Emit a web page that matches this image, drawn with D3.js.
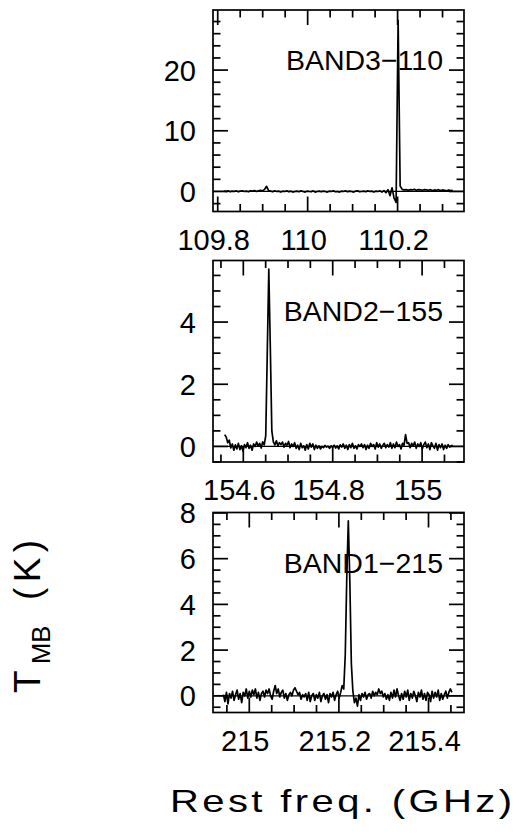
<!DOCTYPE html>
<html><head><meta charset="utf-8">
<script src="https://cdn.jsdelivr.net/npm/d3@7"></script>
<style>
body{margin:0;background:#fff}
svg{display:block}
text{font-family:"Liberation Sans",Arial,sans-serif;fill:#000}
</style>
</head><body>
<svg id="c" width="519" height="838"></svg>
<script>
// ---------- data ----------
const panelNames = ["BAND3\u2212110", "BAND2\u2212155", "BAND1\u2212215"];
const freqDomains = [[109.7895, 110.3477], [154.5322, 155.0937], [214.919, 215.4792]];
const tempDomains = [[-3.3, 29.9], [-0.5, 5.98], [-0.73, 8.02]];
const xTickLabels = [[109.8, 110, 110.2], [154.6, 154.8, 155], [215, 215.2, 215.4]];
const yTickLabels = [[0, 10, 20], [0, 2, 4], [0, 2, 4, 6, 8]];
const yMinorStep = [2, 0.5, 0.5];
const yMajorStep = [10, 2, 2];
const xMinorStep = 0.05;
const xMajorStep = 0.2;
const specStart = [109.8142, 154.5584, 214.9422];
const specStep = [0.0045, 0.0034, 0.0034];

const spec1 = [
0.05,0.0,0.1,-0.05,0.05,0.0,0.1,-0.05,0.05,0.1,
0.0,0.05,-0.05,0.1,0.05,0.15,0.0,0.1,0.2,0.1,
0.35,0.85,0.15,
0.05,-0.05,0.1,0.0,0.05,-0.1,0.05,
0.0,0.1,-0.05,0.05,-0.1,0.0,0.05,-0.05,0.1,0.0,
-0.1,0.05,0.0,-0.05,0.1,-0.1,0.0,0.05,-0.05,0.05,
0.0,-0.1,0.05,0.0,0.1,-0.05,0.0,-0.1,0.05,0.0,
0.1,-0.05,0.05,0.0,-0.1,0.05,0.1,-0.05,0.0,0.05,
-0.05,0.1,0.0,0.05,-0.1,0.05,0.0,0.1,-0.1,0.15,-0.2,
0.3,-0.7,0.6,-1.1,-1.8,28.2,0.9,
0.35,0.25,0.3,0.2,0.3,0.25,0.35,0.2,0.3,0.25,0.2,0.3,
0.25,0.2,0.3,0.15,0.25,0.2,0.3,0.15,0.25,0.2,0.1,0.25,0.15,0.2];

const spec2 = [
0.38,0.30,0.12,0.20,-0.05,0.08,-0.12,0.05,-0.08,0.10,
-0.10,0.02,-0.15,0.06,-0.04,0.12,-0.06,0.04,-0.12,0.08,
0.00,0.14,0.02,0.10,-0.05,0.15,0.05,0.35,3.0,5.7,
3.2,0.5,0.15,0.05,0.18,0.02,0.12,0.06,0.14,-0.02,
0.10,0.04,0.16,-0.04,0.08,0.00,0.12,-0.06,0.04,-0.10,
0.10,-0.04,0.02,-0.12,0.06,-0.08,0.10,-0.02,0.08,-0.10,
0.04,-0.06,0.02,-0.08,0.00,-0.04,0.03,-0.02,0.01,-0.06,
0.02,-0.03,0.04,-0.05,0.02,-0.08,0.05,-0.02,0.08,-0.06,
0.04,-0.10,0.06,-0.04,0.10,-0.06,0.02,-0.08,0.06,0.00,
0.08,-0.04,0.06,-0.10,0.04,-0.06,0.10,0.00,0.06,-0.08,
0.12,-0.02,0.08,-0.06,0.04,0.10,-0.04,0.06,-0.02,0.12,
-0.06,0.08,-0.04,0.14,0.00,0.06,-0.08,0.10,0.04,0.38,
0.10,0.12,-0.04,0.10,0.02,0.14,-0.06,0.08,0.00,0.12,
-0.08,0.06,0.14,-0.04,0.08,-0.10,0.12,0.02,-0.06,0.10,
-0.12,0.06,-0.04,0.08,-0.10,0.04,-0.06,0.06,-0.02,0.02,
0.04];

const spec3 = [
0.05,-0.25,0.15,-0.35,0.10,-0.10,0.20,-0.20,0.05,0.25,
-0.15,0.10,-0.30,0.15,0.00,0.30,-0.10,0.20,-0.05,0.25,
0.05,0.30,-0.10,0.15,-0.20,0.10,0.20,-0.05,0.25,0.10,
0.30,0.00,-0.15,0.20,0.45,0.10,0.30,-0.05,0.15,0.25,
-0.10,0.10,-0.20,0.05,0.15,0.00,0.25,0.35,0.20,0.05,
0.15,-0.15,0.05,-0.05,0.10,-0.20,0.15,-0.25,0.00,0.10,
-0.20,0.05,-0.10,0.15,-0.25,0.00,0.10,-0.15,0.05,-0.30,
0.10,-0.05,0.15,-0.20,0.05,0.20,-0.10,0.15,0.45,0.30,
1.8,5.2,7.65,5.0,1.4,0.2,-0.30,-0.10,-0.45,0.05,
-0.20,0.10,-0.05,0.15,-0.15,0.05,0.10,-0.10,0.20,0.00,
0.15,0.05,0.30,0.10,0.20,-0.05,0.10,-0.15,0.05,-0.20,
0.15,-0.10,0.25,-0.05,0.30,0.00,-0.20,0.10,-0.15,0.20,
-0.05,0.25,-0.20,0.10,-0.10,0.20,0.00,-0.25,0.15,-0.05,
0.25,-0.15,0.10,-0.20,0.15,0.05,-0.25,0.20,-0.10,0.15,
-0.05,0.25,-0.20,0.10,-0.15,0.05,0.20,-0.10,0.15,0.30,
0.15];

const spectra = [spec1, spec2, spec3];
const xTitle = "Rest freq. (GHz)";

// ---------- layout ----------
const svg = d3.select("#c");
const L = 213, R = 464;
const tops = [10, 260.5, 512.5];
const bottoms = [211.5, 462, 712.5];
const majorLen = 15, minorLen = 7.5;
const lw = 1.7;

function ticksFor(d0, d1, step) {
  const a = Math.ceil(d0 / step - 1e-9), b = Math.floor(d1 / step + 1e-9);
  return d3.range(a, b + 1).map(k => +(k * step).toFixed(6));
}
function isMajor(v, step) { return Math.abs(v / step - Math.round(v / step)) < 1e-6; }

spectra.forEach((spec, i) => {
  const top = tops[i], bot = bottoms[i];
  const x = d3.scaleLinear().domain(freqDomains[i]).range([L, R]);
  const y = d3.scaleLinear().domain(tempDomains[i]).range([bot, top]);
  const g = svg.append("g");

  const cid = "clip" + i;
  svg.append("clipPath").attr("id", cid).append("rect")
    .attr("x", L).attr("y", top).attr("width", R - L).attr("height", bot - top);

  const line = d3.line().x((d, k) => x(specStart[i] + k * specStep[i])).y(d => y(d));
  g.append("path").datum(spec).attr("clip-path", `url(#${cid})`)
    .attr("d", line).attr("fill", "none").attr("stroke", "#000")
    .attr("stroke-width", 1.7).attr("stroke-linejoin", "round");

  g.append("line").attr("x1", L).attr("x2", R).attr("y1", y(0)).attr("y2", y(0))
    .attr("stroke", "#000").attr("stroke-width", 1.3);

  ticksFor(freqDomains[i][0], freqDomains[i][1], xMinorStep).forEach(v => {
    const len = isMajor(v, xMajorStep) ? majorLen : minorLen;
    const px = x(v);
    g.append("line").attr("x1", px).attr("x2", px).attr("y1", bot).attr("y2", bot - len)
      .attr("stroke", "#000").attr("stroke-width", lw);
    g.append("line").attr("x1", px).attr("x2", px).attr("y1", top).attr("y2", top + len)
      .attr("stroke", "#000").attr("stroke-width", lw);
  });
  ticksFor(tempDomains[i][0], tempDomains[i][1], yMinorStep[i]).forEach(v => {
    const len = isMajor(v, yMajorStep[i]) ? majorLen : minorLen;
    const py = y(v);
    g.append("line").attr("x1", L).attr("x2", L + len).attr("y1", py).attr("y2", py)
      .attr("stroke", "#000").attr("stroke-width", lw);
    g.append("line").attr("x1", R).attr("x2", R - len).attr("y1", py).attr("y2", py)
      .attr("stroke", "#000").attr("stroke-width", lw);
  });

  g.append("rect").attr("x", L).attr("y", top).attr("width", R - L).attr("height", bot - top)
    .attr("fill", "none").attr("stroke", "#000").attr("stroke-width", lw);

  xTickLabels[i].forEach(v => {
    g.append("text").attr("x", x(v)).attr("dx", -4).attr("y", bot + 38).attr("text-anchor", "middle")
      .attr("font-size", 29).text(d3.format("~g")(v));
  });
  yTickLabels[i].forEach(v => {
    g.append("text").attr("x", 196).attr("y", y(v)).attr("dy", "0.36em")
      .attr("text-anchor", "end").attr("font-size", 29).text(v);
  });

  g.append("text").attr("x", 443).attr("y", top + 60).attr("text-anchor", "end")
    .attr("font-size", 28.5).text(panelNames[i]);
});

svg.append("text").attr("transform", "translate(170,812) scale(1.25,1)")
  .attr("font-size", 32).attr("textLength", 342 / 1.25).attr("lengthAdjust", "spacing")
  .text(xTitle);

const yl = svg.append("g").attr("transform", "translate(40,693) rotate(-90)");
yl.append("text").attr("x", 0).attr("y", 0).attr("font-size", 37).text("T");
yl.append("text").attr("x", 29).attr("y", 10).attr("font-size", 25.5).text("MB");
yl.append("text").attr("x", 93).attr("y", 0).attr("font-size", 37)
  .attr("textLength", 60).attr("lengthAdjust", "spacing").text("(K)");
</script>
</body></html>
